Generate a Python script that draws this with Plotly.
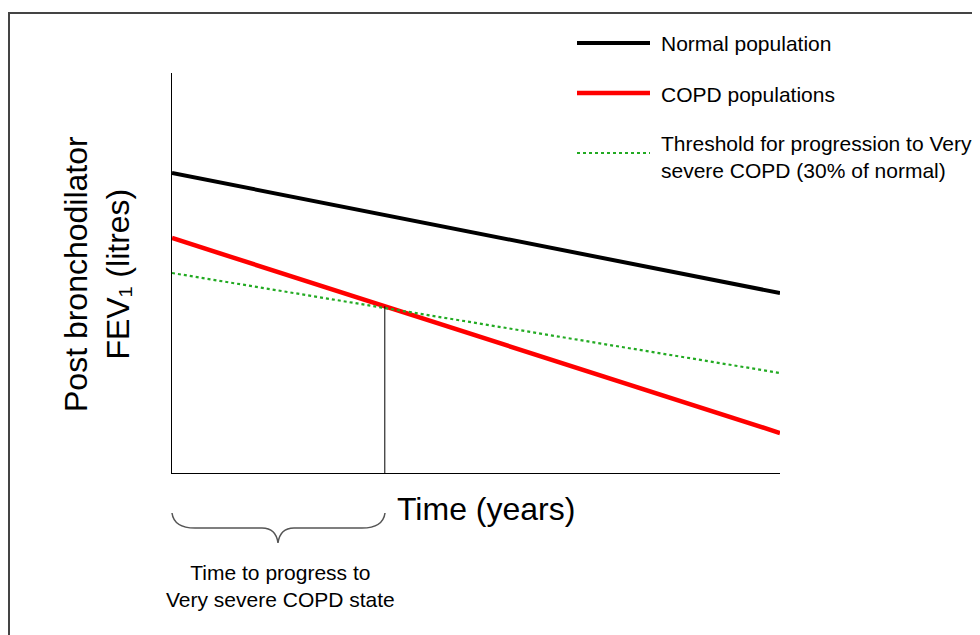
import plotly.graph_objects as go

# ---- data ----
time_years = [0, 10]
normal_fev = [3.00, 1.80]
copd_fev = [2.35, 0.40]
threshold_fev = [2.00, 1.00]
progress_time = [3.5, 3.5]
progress_fev = [0.0, 1.667]

series_names = ["Normal population", "COPD populations",
                "Threshold for progression to Very<br>severe COPD (30% of normal)"]
x_title = "Time (years)"
y_title = "Post bronchodilator<br>FEV₁ (litres)"
brace_label = "Time to progress to<br>Very severe COPD state"

W, H = 980, 635
OFF = 8  # page body margin offset
L, R, T, B = 172 - OFF, 780 - OFF, 73 - OFF, 473 - OFF
FONT = "Liberation Sans, Arial, sans-serif"
SMALL, BIG = 21, 32

def px(x):
    return (x - OFF - L) / (R - L)

def py(y):
    return (B - (y - OFF)) / (B - T)

fig = go.Figure()
fig.add_trace(go.Scatter(x=time_years, y=normal_fev, mode="lines",
                         line=dict(color="#000000", width=4), showlegend=False))
fig.add_trace(go.Scatter(x=time_years, y=copd_fev, mode="lines",
                         line=dict(color="#ff0000", width=4.5), showlegend=False))
fig.add_trace(go.Scatter(x=time_years, y=threshold_fev, mode="lines",
                         line=dict(color="#22aa22", width=2.2, dash="dot"), showlegend=False))
fig.add_trace(go.Scatter(x=progress_time, y=progress_fev, mode="lines",
                         line=dict(color="#000000", width=1), showlegend=False))

shapes = []
annotations = []

# frame
shapes.append(dict(type="rect", xref="paper", yref="paper",
                   x0=px(9), x1=px(1000), y0=py(13), y1=py(660),
                   line=dict(color="#444444", width=2), layer="below"))

# legend
legend_rows = [(43, "#000000", "solid", 4, 43),
               (93, "#ff0000", "solid", 4.5, 94),
               (153, "#22aa22", "dot", 2.2, 157)]
for (ly, col, dash, w, ty), name in zip(legend_rows, series_names):
    shapes.append(dict(type="line", xref="paper", yref="paper",
                       x0=px(577), x1=px(650), y0=py(ly), y1=py(ly),
                       line=dict(color=col, width=w, dash=dash)))
    annotations.append(dict(xref="paper", yref="paper", x=px(659), y=py(ty),
                            xanchor="left", yanchor="middle", align="left",
                            text=name, showarrow=False,
                            font=dict(family=FONT, size=SMALL, color="#000000")))

# brace
pts = ("M {a},{b} Q {c},{d} {e},{d} L {f},{d} Q {g},{d} {h},{i} "
       "Q {j},{d} {k},{d} L {l},{d} Q {m},{d} {n},{b}")
path = pts.format(a=px(172), b=py(513), c=px(174), d=py(528), e=px(195),
                  f=px(262), g=px(276), h=px(278), i=py(543),
                  j=px(280), k=px(294), l=px(362), m=px(383), n=px(385))
shapes.append(dict(type="path", xref="paper", yref="paper", path=path,
                   line=dict(color="#555555", width=1.5)))

annotations.append(dict(xref="paper", yref="paper", x=px(280), y=py(586),
                        xanchor="center", yanchor="middle", align="center",
                        text=brace_label, showarrow=False,
                        font=dict(family=FONT, size=SMALL, color="#000000")))
annotations.append(dict(xref="paper", yref="paper", x=px(395), y=py(509),
                        xanchor="left", yanchor="middle",
                        text=x_title, showarrow=False,
                        font=dict(family=FONT, size=BIG, color="#000000")))
annotations.append(dict(xref="paper", yref="paper", x=px(97), y=py(274),
                        xanchor="center", yanchor="middle", align="center",
                        textangle=-90, text=y_title, showarrow=False,
                        font=dict(family=FONT, size=BIG, color="#000000")))

fig.update_layout(
    width=W, height=H,
    margin=dict(l=L, r=W - R, t=T, b=H - B),
    paper_bgcolor="white", plot_bgcolor="white",
    xaxis=dict(range=[0, 10], showline=True, linecolor="#000000", linewidth=1,
               showgrid=False, zeroline=False, showticklabels=False, ticks=""),
    yaxis=dict(range=[0, 4], showline=True, linecolor="#000000", linewidth=1,
               showgrid=False, zeroline=False, showticklabels=False, ticks=""),
    shapes=shapes, annotations=annotations, showlegend=False,
    font=dict(family=FONT),
)

fig.write_html("out.html")
